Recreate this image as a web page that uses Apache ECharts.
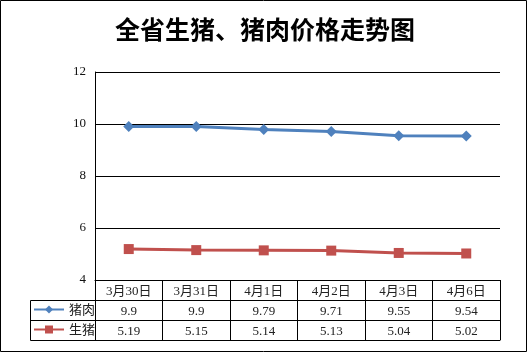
<!DOCTYPE html>
<html>
<head>
<meta charset="utf-8">
<script src="https://cdn.jsdelivr.net/npm/echarts@6/dist/echarts.min.js"></script>
<style>
  html, body { margin: 0; padding: 0; background: #fff; }
  #chart { width: 530px; height: 354px; }
</style>
</head>
<body>
<div id="chart"></div>
<script>
const dates = ['3月30日', '3月31日', '4月1日', '4月2日', '4月3日', '4月6日']
const pork = [9.9, 9.9, 9.79, 9.71, 9.55, 9.54]
const pig = [5.19, 5.15, 5.14, 5.13, 5.04, 5.02]
const seriesNames = ['猪肉', '生猪']

const tableFont = 'Liberation Serif, Noto Sans CJK SC'
const black = '#000'

// one extra x axis per table row, stacked under the plot
function tableRow(offset, labels) {
  return {
    type: 'category',
    data: dates,
    position: 'bottom',
    offset: offset,
    axisLine: { show: true, lineStyle: { color: black, width: 1 } },
    axisTick: { show: false },
    axisLabel: {
      show: !!labels,
      margin: 5,
      fontSize: 13,
      fontFamily: tableFont,
      color: '#222',
      formatter: (v, i) => labels ? String(labels[i]) : ''
    }
  }
}

// legend cell for each table row
function legendCell(name, top) {
  return {
    left: 33,
    top: top,
    padding: 0,
    itemWidth: 30,
    itemHeight: 10,
    data: [name],
    textStyle: { fontSize: 13, fontFamily: 'Noto Sans CJK SC', color: '#222' }
  }
}

const chart = echarts.init(document.getElementById('chart'))
const option = {
  animation: false,
  backgroundColor: '#fff',
  title: {
    text: '全省生猪、猪肉价格走势图',
    left: 'center',
    top: 12,
    textStyle: {
      fontFamily: 'Noto Sans CJK SC',
      fontWeight: 'bold',
      fontSize: 25,
      color: black
    }
  },
  grid: { left: 95, right: 30, top: 72, bottom: 74 },
  legend: [legendCell(seriesNames[0], 303), legendCell(seriesNames[1], 323)],
  xAxis: [
    {
      type: 'category',
      data: dates,
      position: 'bottom',
      axisLine: { show: true, lineStyle: { color: black, width: 1 } },
      axisTick: { show: true, length: 60, lineStyle: { color: black, width: 1 } },
      axisLabel: { margin: 5, fontSize: 13, fontFamily: tableFont, color: '#222' }
    },
    tableRow(20, pork),
    tableRow(40, pig),
    tableRow(60, null)
  ],
  yAxis: {
    type: 'value',
    min: 4,
    max: 12,
    interval: 2,
    axisLine: { show: true, lineStyle: { color: black, width: 1 } },
    axisTick: { show: false },
    splitLine: { lineStyle: { color: black, width: 1 } },
    axisLabel: { margin: 9, fontSize: 13, fontFamily: 'Liberation Serif', color: '#111' }
  },
  series: [
    {
      name: seriesNames[0],
      type: 'line',
      data: pork,
      symbol: 'diamond',
      symbolSize: 11,
      color: '#4F81BD',
      lineStyle: { width: 3, color: '#4F81BD' }
    },
    {
      name: seriesNames[1],
      type: 'line',
      data: pig,
      symbol: 'rect',
      symbolSize: 10,
      color: '#C0504D',
      lineStyle: { width: 3, color: '#C0504D' }
    }
  ],
  graphic: [
    {
      type: 'rect',
      shape: { x: 0.5, y: 0.5, width: 526, height: 351 },
      style: { fill: 'none', stroke: black, lineWidth: 1 },
      silent: true
    },
    {
      // legend column of the data table
      type: 'polyline',
      shape: { points: [[95, 300.5], [30.5, 300.5], [30.5, 340.5], [95, 340.5]] },
      style: { fill: 'none', stroke: black, lineWidth: 1 },
      silent: true
    },
    {
      type: 'line',
      shape: { x1: 30.5, y1: 320.5, x2: 95, y2: 320.5 },
      style: { stroke: black, lineWidth: 1 },
      silent: true
    }
  ]
}
chart.setOption(option)
</script>
</body>
</html>
